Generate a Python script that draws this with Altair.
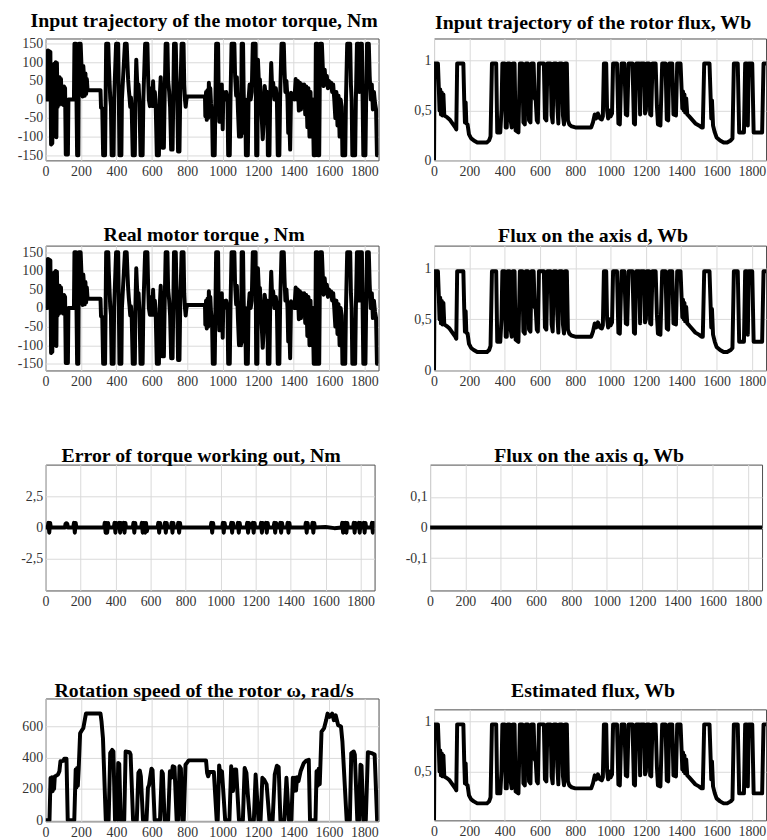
import altair as alt
import pandas as pd

FONT = "Liberation Serif"
X_MAX = 1880
X_TICKS = [0, 200, 400, 600, 800, 1000, 1200, 1400, 1600, 1800]

TITLES = [
    "Input trajectory of the motor torque, Nm",
    "Input trajectory of the rotor flux, Wb",
    "Real motor torque , Nm",
    "Flux on the axis d, Wb",
    "Error of torque working out, Nm",
    "Flux on the axis q, Wb",
    "Rotation speed of the rotor \u03c9, rad/s",
    "Estimated flux, Wb",
]

# motor torque (reference and real torque are the same trace)
torque = [
    (0, 0), (10, 0), (13, 132), (27, 128), (31, -121), (38, -118), (42, 92), (45, -100),
    (49, 96), (53, -60), (57, 100), (61, -102), (64, 98), (68, -20), (72, 50), (75, -15),
    (79, 60), (83, -8), (87, 55), (91, -12), (95, 30), (100, -15), (104, 35), (110, 30),
    (114, -148), (126, -148), (129, 0), (160, 0), (163, 150), (172, 150), (175, -20),
    (178, -150), (185, -150), (188, 150), (198, 150), (202, 100), (206, 60), (209, 8),
    (213, 90), (217, 62), (221, 10), (225, 70), (229, 15), (233, 55), (237, 25), (310, 25),
    (313, -22), (320, -24), (325, -150), (336, -150), (339, 0), (342, 150), (354, 150),
    (357, 98), (361, 49), (365, 4), (369, -18), (373, -150), (384, -150), (387, 0),
    (398, 150), (410, 150), (413, 30), (417, -150), (428, -150), (431, 0), (448, 150),
    (458, 150), (462, 100), (466, 54), (470, 27), (474, 5), (478, -20), (482, 5),
    (486, -20), (492, -150), (504, -150), (507, 0), (512, 107), (516, 60), (520, 20),
    (525, 40), (530, -10), (536, -150), (548, -150), (552, 0), (562, 150), (575, 150),
    (579, 60), (583, 0), (589, -18), (594, 10), (598, 30), (603, -18), (607, 49),
    (612, -10), (617, 20), (622, -20), (628, -150), (640, -150), (644, 0), (650, 60),
    (655, 0), (660, -130), (668, -130), (672, 0), (678, 150), (688, 150), (692, 50),
    (698, 20), (703, -20), (709, -135), (717, -135), (721, 0), (725, 150), (735, 150),
    (739, 60), (743, 10), (748, -140), (756, -140), (760, 0), (768, 150), (779, 150),
    (783, 40), (787, 0), (791, -20), (795, 0), (800, 8), (900, 8), (902, -45), (906, 20),
    (910, -55), (914, 25), (918, -50), (922, 45), (926, -20), (930, 30), (934, -10),
    (940, -40), (944, -150), (955, -150), (959, 0), (963, 150), (974, 150), (977, 27),
    (981, -60), (985, 20), (990, -50), (995, 40), (1000, -80), (1004, 20), (1010, 0),
    (1020, 20), (1027, 0), (1031, -150), (1040, -150), (1044, 0), (1050, 150), (1066, 150),
    (1070, 63), (1076, 10), (1080, 60), (1086, -27), (1092, -100), (1098, -60),
    (1104, -100), (1107, 150), (1115, 150), (1118, 36), (1123, -90), (1127, 0),
    (1131, -150), (1142, -150), (1146, 0), (1152, 40), (1158, 0), (1164, 20), (1170, 150),
    (1186, 150), (1189, -150), (1196, -150), (1199, 107), (1204, 50), (1210, 54),
    (1216, 0), (1220, -45), (1226, -107), (1232, -60), (1237, 36), (1245, 5), (1252, 20),
    (1255, -150), (1264, -150), (1268, 0), (1274, 98), (1280, 20), (1285, 45), (1292, 0),
    (1300, 30), (1306, 0), (1311, -150), (1320, -150), (1324, 0), (1332, 150), (1345, 150),
    (1349, 80), (1354, 20), (1360, 50), (1366, 0), (1370, -90), (1376, -50),
    (1381, -135), (1386, 18), (1392, 0), (1398, 10), (1405, 0), (1412, 55), (1418, 0),
    (1424, 50), (1430, -30), (1436, 45), (1442, -27), (1448, 40), (1454, 0), (1460, 40),
    (1466, -40), (1472, 35), (1478, -75), (1484, 30), (1490, -100), (1496, 20),
    (1502, -100), (1508, 0), (1514, -150), (1522, -150), (1526, 150), (1534, 150),
    (1538, -150), (1545, -150), (1550, 150), (1560, 150), (1565, 90), (1570, 36),
    (1576, 80), (1582, 40), (1588, 63), (1594, 30), (1600, 50), (1606, 36), (1612, 45),
    (1618, 20), (1624, 40), (1630, 0), (1636, -50), (1642, 20), (1648, -70), (1654, 10),
    (1660, -100), (1666, 0), (1672, -20), (1676, -150), (1692, -150), (1696, 0),
    (1703, 150), (1720, 150), (1724, 40), (1728, 0), (1732, -150), (1748, -150),
    (1752, 0), (1758, 150), (1768, 150), (1772, 20), (1776, 150), (1786, 150), (1790, 0),
    (1794, -150), (1806, -150), (1810, 0), (1815, 150), (1825, 150), (1830, 63),
    (1836, 0), (1842, 40), (1848, -27), (1854, 20), (1860, -10), (1866, -27),
    (1871, -150), (1880, -150),
]

# rotor flux (reference, d-axis and estimated flux are the same trace)
flux = [
    (0, 0), (3, 0.97), (22, 0.97), (27, 0.73), (31, 0.5), (35, 0.71), (39, 0.46),
    (44, 0.68), (48, 0.45), (53, 0.66), (58, 0.45), (66, 0.44), (75, 0.43), (88, 0.41),
    (100, 0.38), (112, 0.35), (120, 0.33), (126, 0.31), (131, 0.97), (166, 0.97),
    (171, 0.6), (175, 0.38), (179, 0.58), (183, 0.37), (190, 0.36), (198, 0.26),
    (210, 0.22), (225, 0.2), (245, 0.18), (300, 0.18), (312, 0.2), (320, 0.24),
    (328, 0.97), (352, 0.97), (358, 0.28), (375, 0.28), (382, 0.5), (387, 0.97),
    (400, 0.97), (406, 0.33), (412, 0.33), (417, 0.97), (428, 0.97), (434, 0.4),
    (440, 0.33), (446, 0.97), (456, 0.97), (462, 0.3), (478, 0.28), (486, 0.97),
    (500, 0.97), (506, 0.38), (514, 0.36), (520, 0.97), (532, 0.97), (538, 0.4),
    (546, 0.38), (552, 0.97), (564, 0.97), (570, 0.62), (576, 0.6), (582, 0.4),
    (588, 0.38), (594, 0.97), (622, 0.97), (628, 0.42), (636, 0.4), (642, 0.97),
    (660, 0.97), (666, 0.45), (672, 0.38), (678, 0.97), (692, 0.97), (698, 0.55),
    (704, 0.37), (710, 0.97), (724, 0.97), (730, 0.45), (736, 0.36), (742, 0.97),
    (752, 0.97), (758, 0.4), (766, 0.36), (780, 0.34), (800, 0.33), (890, 0.33),
    (900, 0.38), (910, 0.46), (918, 0.42), (928, 0.47), (940, 0.42), (950, 0.41),
    (956, 0.44), (962, 0.97), (975, 0.97), (980, 0.5), (986, 0.42), (992, 0.5),
    (1000, 0.44), (1008, 0.47), (1014, 0.97), (1036, 0.97), (1044, 0.37), (1052, 0.36),
    (1062, 0.97), (1078, 0.97), (1086, 0.46), (1094, 0.45), (1102, 0.97), (1124, 0.97),
    (1132, 0.37), (1138, 0.36), (1145, 0.97), (1162, 0.97), (1167, 0.46), (1172, 0.97),
    (1190, 0.97), (1195, 0.47), (1200, 0.5), (1205, 0.97), (1218, 0.97), (1224, 0.46),
    (1230, 0.45), (1237, 0.97), (1255, 0.97), (1262, 0.55), (1268, 0.36), (1282, 0.35),
    (1292, 0.97), (1311, 0.97), (1318, 0.41), (1326, 0.4), (1332, 0.97), (1349, 0.97),
    (1356, 0.46), (1370, 0.45), (1377, 0.97), (1396, 0.97), (1402, 0.71), (1406, 0.52),
    (1410, 0.69), (1414, 0.5), (1418, 0.66), (1422, 0.48), (1428, 0.62), (1434, 0.46),
    (1445, 0.44), (1460, 0.41), (1480, 0.37), (1500, 0.35), (1515, 0.33), (1522, 0.33),
    (1530, 0.97), (1560, 0.97), (1566, 0.65), (1570, 0.42), (1574, 0.6), (1580, 0.35),
    (1590, 0.28), (1600, 0.23), (1620, 0.2), (1640, 0.18), (1660, 0.18), (1670, 0.19),
    (1680, 0.2), (1690, 0.22), (1698, 0.97), (1720, 0.97), (1728, 0.28), (1755, 0.28),
    (1762, 0.97), (1772, 0.97), (1777, 0.35), (1782, 0.97), (1802, 0.97), (1810, 0.28),
    (1858, 0.28), (1866, 0.97), (1880, 0.97),
]

# torque error, Nm
torque_error = [
    (0, 0), (12, 0), (16, 0.38), (21, -0.42), (26, 0.38), (30, 0),
    (110, 0), (114, 0.3), (119, 0.35), (124, 0.3), (128, 0),
    (158, 0), (162, 0.38), (167, -0.42), (172, 0.38), (176, 0),
    (334, 0), (338, 0.38), (343, -0.42), (348, 0.38), (352, -0.42), (357, 0.38), (361, 0),
    (390, 0), (394, 0.38), (399, -0.42), (404, 0.38), (408, 0),
    (417, 0), (421, 0.38), (426, -0.42), (431, 0.38), (435, 0),
    (442, 0), (446, 0.38), (451, -0.42), (456, 0.38), (460, 0),
    (498, 0), (502, 0.38), (507, -0.42), (512, 0.38), (516, 0),
    (546, 0), (550, 0.38), (555, -0.42), (560, 0.38), (564, 0.38), (569, -0.42),
    (574, 0.38), (579, -0.3), (583, 0),
    (640, 0), (644, 0.38), (649, -0.42), (654, 0.38), (658, 0),
    (678, 0), (682, 0.38), (687, -0.42), (692, 0.38), (696, 0),
    (716, 0), (720, 0.38), (725, -0.42), (730, 0.38), (734, 0),
    (754, 0), (758, 0.38), (763, -0.42), (768, 0.38), (772, 0),
    (943, 0), (947, 0.38), (952, -0.42), (957, 0.38), (961, 0),
    (1009, 0), (1013, 0.38), (1018, -0.42), (1023, 0.38), (1027, 0),
    (1057, 0), (1061, 0.38), (1066, -0.42), (1071, 0.38), (1075, 0),
    (1095, 0), (1099, 0.38), (1104, -0.42), (1109, 0.38), (1113, 0),
    (1148, 0), (1152, 0.38), (1157, -0.42), (1162, 0.38), (1166, 0),
    (1180, 0), (1184, 0.38), (1189, -0.42), (1194, 0.38), (1198, 0),
    (1227, 0), (1231, 0.38), (1236, -0.42), (1241, 0.38), (1245, 0),
    (1255, 0), (1259, 0.38), (1264, -0.42), (1269, 0.38), (1273, 0),
    (1303, 0), (1307, 0.38), (1312, -0.42), (1317, 0.38), (1321, 0),
    (1337, 0), (1341, 0.38), (1346, -0.42), (1351, 0.38), (1355, 0),
    (1379, 0), (1383, 0.38), (1388, -0.42), (1393, 0.38), (1397, 0),
    (1483, 0), (1487, 0.38), (1492, -0.42), (1497, 0.38), (1501, 0),
    (1521, 0), (1525, 0.38), (1530, -0.42), (1535, 0.38), (1539, 0),
    (1600, 0.05), (1650, -0.05), (1691, 0),
    (1695, 0.38), (1700, -0.42), (1705, 0.38), (1710, 0), (1714, 0.38), (1719, -0.42),
    (1724, 0.38), (1728, 0),
    (1757, 0), (1761, 0.38), (1766, -0.42), (1771, 0.38), (1775, 0),
    (1786, 0), (1790, 0.38), (1795, -0.42), (1800, 0.38), (1804, 0),
    (1814, 0), (1818, 0.38), (1823, -0.42), (1828, 0.38), (1832, 0),
    (1861, 0), (1865, 0.38), (1870, -0.42), (1875, 0.38), (1880, 0.1),
]

# q-axis flux, Wb
flux_q = [(0, 0), (1880, 0)]

# rotor speed, rad/s
speed = [
    (0, 0), (22, 0), (28, 270), (32, 190), (36, 275), (40, 185), (44, 270), (48, 200),
    (52, 280), (60, 285), (70, 292), (78, 313), (84, 377), (100, 380), (106, 394),
    (118, 394), (125, 0), (162, 0), (170, 324), (174, 210), (178, 334), (182, 220),
    (187, 330), (195, 557), (206, 578), (213, 590), (228, 683), (310, 683), (316, 630),
    (324, 525), (340, 0), (356, 0), (365, 430), (376, 450), (383, 440), (392, 0),
    (404, 0), (410, 366), (416, 360), (424, 0), (444, 0), (452, 440), (474, 436),
    (480, 420), (494, 0), (515, 0), (524, 303), (532, 317), (538, 280), (550, 0),
    (570, 0), (578, 207), (584, 224), (590, 271), (598, 330), (604, 320), (616, 0),
    (646, 0), (656, 313), (662, 300), (672, 0), (692, 0), (702, 313), (710, 271),
    (718, 345), (728, 340), (740, 0), (748, 0), (756, 345), (764, 330), (772, 0),
    (780, 0), (790, 355), (800, 370), (808, 383), (906, 383), (912, 303), (918, 281),
    (926, 309), (950, 309), (966, 0), (972, 0), (980, 351), (988, 281), (996, 313),
    (1014, 0), (1038, 0), (1048, 345), (1058, 186), (1068, 324), (1076, 324), (1092, 0),
    (1114, 0), (1124, 334), (1134, 303), (1142, 165), (1154, 0), (1176, 0), (1186, 292),
    (1202, 0), (1214, 0), (1224, 271), (1234, 260), (1248, 229), (1264, 0), (1282, 0),
    (1294, 292), (1306, 349), (1316, 340), (1326, 0), (1348, 0), (1360, 271), (1374, 0),
    (1388, 0), (1396, 271), (1402, 186), (1408, 271), (1414, 190), (1420, 275),
    (1428, 250), (1440, 313), (1458, 366), (1470, 380), (1486, 387), (1493, 0),
    (1524, 0), (1530, 313), (1536, 220), (1542, 330), (1548, 230), (1558, 567),
    (1572, 588), (1584, 640), (1592, 683), (1604, 662), (1618, 683), (1628, 641),
    (1638, 672), (1652, 609), (1668, 600), (1676, 504), (1700, 0), (1718, 0),
    (1726, 430), (1740, 440), (1746, 420), (1760, 0), (1770, 0), (1778, 355),
    (1784, 350), (1794, 0), (1808, 0), (1820, 436), (1840, 430), (1858, 420),
    (1872, 0), (1880, 0),
]


def frame(pairs):
    return pd.DataFrame({
        "i": list(range(len(pairs))),
        "t": [p[0] for p in pairs],
        "v": [p[1] for p in pairs],
    })


def panel(pairs, title, ydom, yvals, w, h, yext, toff, tdx):
    x = alt.X(
        "t:Q",
        scale=alt.Scale(domain=[0, X_MAX], nice=False, zero=False),
        axis=alt.Axis(values=X_TICKS, title=None, format="d", labelPadding=4,
                      labelFlush=False, labelFont=FONT, labelFontSize=14,
                      labelColor="#333333", ticks=False, tickSize=0,
                      domain=False, grid=True),
    )
    y = alt.Y(
        "v:Q",
        scale=alt.Scale(domain=ydom, nice=False, zero=False),
        axis=alt.Axis(values=yvals, title=None, labelPadding=3, labelFlush=False,
                      labelFont=FONT, labelFontSize=14, labelColor="#333333",
                      ticks=False, tickSize=0, domain=False, grid=True,
                      minExtent=yext, maxExtent=yext,
                      labelExpr="replace(toString(datum.value), '.', ',')"),
    )
    return (
        alt.Chart(frame(pairs))
        .mark_line(color="black", strokeWidth=4, strokeJoin="round", strokeCap="butt", clip=True)
        .encode(x=x, y=y, order="i:Q")
        .properties(width=w, height=h,
                    title=alt.TitleParams(text=title, offset=toff, dx=tdx))
    )


def spacer():
    return (
        alt.Chart(pd.DataFrame({"a": [0]}))
        .mark_point(opacity=0)
        .encode(x=alt.X("a:Q", axis=None), y=alt.Y("a:Q", axis=None))
        .properties(width=1, height=1, view=alt.ViewBackground(strokeOpacity=0))
    )


TQ_TICKS = [-150, -100, -50, 0, 50, 100, 150]
FL_TICKS = [0, 0.5, 1]

p11 = panel(torque, TITLES[0], [-164, 164], TQ_TICKS, 336, 123, 41, 6, -8)
p12 = panel(flux, TITLES[1], [0, 1.22], FL_TICKS, 335, 123, 30, 6, -7)
p21 = panel(torque, TITLES[2], [-168, 168], TQ_TICKS, 336, 126, 41, 0, -8)
p22 = panel(flux, TITLES[3], [0, 1.22], FL_TICKS, 335, 126, 30, 0, -7)
p31 = panel(torque_error, TITLES[4], [-5.12, 5.12], [-2.5, 0, 2.5], 332, 127, 45, -1, -9)
p32 = panel(flux_q, TITLES[5], [-0.205, 0.205], [-0.1, 0, 0.1], 335, 127, 30, -1, -7)
p41 = panel(speed, TITLES[6], [-8, 780], [0, 200, 400, 600], 336, 124, 41, -3, -8)
p42 = panel(flux, TITLES[7], [0.01, 1.12], [0.5, 1], 335, 112, 30, 8, -7)

H_SP = 24
row1 = alt.hconcat(p11, p12, spacing=H_SP)
row2 = alt.hconcat(p21, p22, spacing=H_SP)
row3 = alt.hconcat(p31, p32, spacing=H_SP)
row4 = alt.hconcat(
    alt.vconcat(spacer(), p41, spacing=0),
    alt.vconcat(spacer(), p42, spacing=0),
    spacing=H_SP,
)

chart = (
    alt.vconcat(
        row1,
        alt.vconcat(row2, alt.vconcat(row3, row4, spacing=65), spacing=56),
        spacing=46,
    )
    .properties(padding={"left": 0, "top": 6, "right": 0, "bottom": 0})
    .configure(background="white")
    .configure_view(stroke="#4d4d4d", strokeWidth=1)
    .configure_axis(labelFont=FONT, labelFontSize=14, labelColor="#333333",
                    gridColor="#dadada", gridWidth=1)
    .configure_title(font=FONT, fontSize=20, fontWeight="bold", color="black", anchor="middle")
)

chart.save("out.html", embed_options={"renderer": "svg", "actions": False})
